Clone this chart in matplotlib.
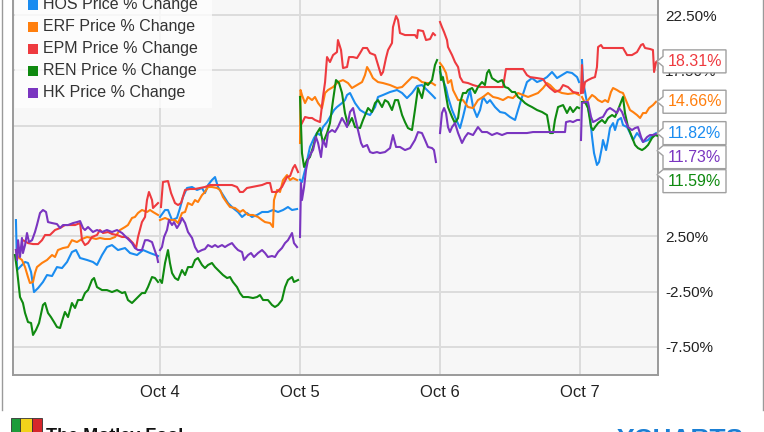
import numpy as np
import matplotlib
matplotlib.use("Agg")
import matplotlib.pyplot as plt
from matplotlib.patches import Rectangle, Polygon

plt.rcParams['font.family'] = ['Liberation Sans', 'DejaVu Sans']

names = ["HOS", "ERF", "EPM", "REN", "HK"]
colors = ["#1a8cf0", "#ff7f0e", "#ee3a3f", "#0f8a10", "#7a35c0"]
day_ticks = [1, 2, 3, 4]
day_labels = ["Oct 4", "Oct 5", "Oct 6", "Oct 7"]
y_ticks = [-7.5, -2.5, 2.5, 7.5, 12.5, 17.5, 22.5]
last_values = [11.82, 14.66, 18.31, 11.59, 11.73]

# (time in trading days since the Oct 3 open, % change)
hos = [
    (-0.029, 3.96), (-0.021, -0.56), (0.014, -0.10), (0.036, 0.17), (0.057, 0.08), (0.079, -0.74),
    (0.1, -2.55), (0.129, -2.19), (0.164, -1.64), (0.193, -1.01), (0.229, -1.10), (0.264, -0.29),
    (0.3, -0.38), (0.336, 0.17), (0.371, 1.07), (0.4, 1.25), (0.429, 0.53), (0.479, 0.35),
    (0.521, 0.17), (0.55, -0.10), (0.586, 0.80), (0.621, 1.52), (0.657, 1.70), (0.7, 1.25),
    (0.75, 1.43), (0.786, 0.98), (0.836, 0.80), (0.879, 1.25), (0.929, 0.98), (0.986, 0.71),
    (1.0, 4.24), (1.036, 4.87), (1.057, 4.87), (1.086, 3.96), (1.121, 4.15), (1.143, 5.05),
    (1.164, 6.04), (1.193, 6.86), (1.229, 6.95), (1.264, 6.68), (1.3, 6.86), (1.321, 6.40),
    (1.343, 7.13), (1.371, 7.58), (1.393, 7.85), (1.414, 6.95), (1.45, 6.22), (1.486, 5.50),
    (1.521, 5.05), (1.557, 4.69), (1.586, 4.24), (1.621, 4.60), (1.657, 4.24), (1.693, 4.42),
    (1.729, 4.69), (1.771, 4.69), (1.807, 4.87), (1.843, 4.69), (1.879, 4.87), (1.914, 5.14),
    (1.943, 4.87), (1.979, 4.96),
    (2.0, 7.6), (2.014, 7.40), (2.036, 8.49), (2.071, 10.57), (2.1, 11.38), (2.121, 11.83),
    (2.143, 11.65), (2.164, 12.37), (2.193, 12.82), (2.214, 13.28), (2.243, 13.91), (2.264, 14.18),
    (2.3, 14.54), (2.321, 14.81), (2.336, 15.27), (2.357, 15.45), (2.371, 15.09), (2.393, 14.54),
    (2.429, 13.91), (2.464, 13.64), (2.5, 13.46), (2.536, 14.18), (2.557, 15.09), (2.593, 15.27),
    (2.643, 15.54), (2.693, 15.72), (2.729, 15.45), (2.764, 14.99), (2.8, 15.45), (2.836, 16.08),
    (2.871, 16.17), (2.907, 15.72), (2.943, 15.27), (2.964, 14.99),
    (3.0, 17.35), (3.021, 16.62), (3.043, 15.90), (3.057, 15.09), (3.086, 13.91), (3.107, 13.28),
    (3.143, 12.28), (3.164, 13.28), (3.193, 14.81), (3.214, 15.72), (3.236, 14.18), (3.264, 13.28),
    (3.286, 13.91), (3.307, 15.09), (3.336, 14.54), (3.357, 14.81), (3.393, 14.18), (3.429, 13.73),
    (3.464, 13.64), (3.5, 13.28), (3.536, 13.01), (3.557, 13.91), (3.586, 15.09), (3.621, 16.44),
    (3.657, 16.80), (3.693, 16.44), (3.729, 16.62), (3.764, 16.89), (3.8, 17.35), (3.836, 16.80),
    (3.871, 17.07), (3.907, 17.35), (3.943, 17.26), (3.979, 16.89), (3.993, 16.44),
    (4.014, 18.43), (4.021, 16.62), (4.05, 14.54), (4.071, 13.28), (4.086, 11.47), (4.1, 10.02),
    (4.121, 8.94), (4.136, 9.21), (4.157, 10.57), (4.164, 11.20), (4.186, 10.29), (4.2, 11.20),
    (4.214, 12.28), (4.236, 12.73), (4.25, 12.10), (4.271, 13.01), (4.293, 13.19), (4.307, 12.55),
    (4.336, 12.37), (4.357, 11.83), (4.379, 11.20), (4.407, 11.83), (4.429, 11.47), (4.45, 11.02),
    (4.486, 11.20), (4.521, 11.65), (4.543, 11.82),
]

erf = [
    (-0.029, 1.25), (-0.014, 0.62), (0.014, 0.35), (0.036, -0.29), (0.057, -1.19), (0.071, -1.73),
    (0.093, -1.64), (0.107, -0.83), (0.121, -0.29), (0.157, 0.08), (0.193, 0.35), (0.229, 0.80),
    (0.25, 0.62), (0.271, 1.25), (0.307, 1.43), (0.343, 1.52), (0.371, 2.14), (0.407, 1.97),
    (0.443, 2.25), (0.479, 2.43), (0.514, 2.34), (0.543, 2.25), (0.571, 2.34), (0.607, 2.25),
    (0.643, 2.25), (0.679, 2.43), (0.714, 3.06), (0.75, 3.33), (0.771, 3.51), (0.8, 4.15),
    (0.821, 4.24), (0.843, 4.60), (0.871, 4.87), (0.907, 4.69), (0.929, 4.87), (0.95, 4.69),
    (0.986, 4.42),
    (1.0, 3.96), (1.036, 4.15), (1.071, 3.96), (1.107, 3.96), (1.129, 3.69), (1.157, 4.60),
    (1.179, 4.69), (1.2, 5.50), (1.229, 5.32), (1.25, 5.77), (1.271, 5.59), (1.3, 6.22),
    (1.321, 6.50), (1.343, 6.95), (1.371, 6.95), (1.407, 6.86), (1.429, 6.68), (1.45, 6.04),
    (1.479, 5.50), (1.5, 5.14), (1.536, 5.05), (1.571, 4.69), (1.593, 4.87), (1.629, 4.42),
    (1.664, 4.42), (1.7, 4.24), (1.729, 3.96), (1.75, 3.78), (1.786, 3.69), (1.807, 3.33),
    (1.814, 5.77), (1.836, 6.68), (1.857, 6.50), (1.879, 7.58), (1.907, 8.03), (1.929, 7.58),
    (1.95, 7.76), (1.979, 7.58),
    (2.0, 10.93), (2.004, 15.72), (2.014, 15.27), (2.036, 14.54), (2.057, 15.09), (2.086, 14.81),
    (2.107, 15.09), (2.129, 14.54), (2.157, 14.09), (2.179, 15.45), (2.2, 15.72), (2.236, 15.99),
    (2.271, 16.44), (2.307, 16.62), (2.343, 16.35), (2.371, 15.90), (2.407, 16.17), (2.443, 16.44),
    (2.464, 17.07), (2.479, 17.80), (2.5, 17.35), (2.521, 16.80), (2.557, 16.44), (2.593, 16.35),
    (2.643, 16.17), (2.693, 15.90), (2.729, 15.99), (2.764, 16.44), (2.8, 16.89), (2.836, 16.80),
    (2.871, 16.44), (2.907, 16.35), (2.943, 16.35), (2.964, 16.17),
    (3.0, 18.16), (3.021, 17.80), (3.043, 17.26), (3.057, 16.35), (3.079, 16.62), (3.093, 15.72),
    (3.129, 14.81), (3.164, 14.81), (3.2, 14.18), (3.236, 14.09), (3.271, 14.81), (3.307, 15.09),
    (3.343, 15.45), (3.379, 15.09), (3.414, 14.99), (3.45, 14.81), (3.486, 15.09), (3.521, 14.99),
    (3.557, 15.45), (3.593, 15.27), (3.629, 15.09), (3.664, 15.27), (3.7, 15.45), (3.736, 15.90),
    (3.764, 16.35), (3.786, 16.17), (3.821, 15.72), (3.871, 15.45), (3.914, 15.36), (3.964, 15.45),
    (3.993, 15.27),
    (4.014, 15.09), (4.036, 14.54), (4.057, 14.81), (4.086, 15.27), (4.107, 15.09), (4.129, 14.81),
    (4.157, 14.63), (4.179, 14.81), (4.2, 14.63), (4.221, 15.54), (4.236, 15.90), (4.264, 15.72),
    (4.286, 15.54), (4.307, 15.45), (4.336, 14.54), (4.357, 13.91), (4.379, 13.73), (4.407, 13.46),
    (4.429, 13.19), (4.45, 13.64), (4.471, 13.64), (4.493, 14.09), (4.521, 14.36), (4.543, 14.66),
]

epm = [
    (0.021, 2.14), (0.057, 1.88), (0.093, 1.79), (0.129, 1.79), (0.157, 2.14), (0.179, 2.61),
    (0.214, 2.61), (0.25, 3.06), (0.286, 3.24), (0.321, 3.51), (0.357, 3.51), (0.393, 3.51),
    (0.429, 3.69), (0.443, 2.14), (0.464, 1.70), (0.486, 1.88), (0.514, 2.43), (0.55, 2.61),
    (0.571, 3.06), (0.593, 2.79), (0.629, 2.88), (0.657, 2.70), (0.693, 2.61), (0.729, 2.43),
    (0.75, 2.43), (0.771, 2.34), (0.807, 1.88), (0.829, 1.43), (0.843, 2.43), (0.871, 3.78),
    (0.893, 4.24), (0.907, 5.77), (0.921, 6.50), (0.943, 5.77), (0.95, 5.05), (0.971, 5.32),
    (0.986, 5.50),
    (1.007, 5.14), (1.021, 7.40), (1.057, 7.49), (1.079, 6.40), (1.107, 5.50), (1.129, 5.32),
    (1.15, 5.50), (1.179, 6.68), (1.214, 6.77), (1.25, 6.77), (1.286, 6.86), (1.321, 6.95),
    (1.357, 7.13), (1.407, 7.13), (1.443, 7.13), (1.514, 7.13), (1.55, 6.95), (1.571, 6.50),
    (1.593, 6.50), (1.621, 6.86), (1.657, 6.95), (1.693, 7.04), (1.729, 7.13), (1.764, 7.31),
    (1.786, 7.31), (1.8, 6.50), (1.836, 6.50), (1.871, 6.95), (1.907, 7.85), (1.929, 7.94),
    (1.95, 8.67), (1.964, 8.94), (1.986, 8.30),
    (2.007, 12.55), (2.036, 13.28), (2.064, 13.19), (2.086, 13.19), (2.107, 13.01), (2.143, 12.82),
    (2.164, 15.09), (2.179, 16.44), (2.193, 18.70), (2.214, 18.25), (2.236, 18.88), (2.264, 19.15),
    (2.271, 20.24), (2.293, 19.34), (2.307, 17.71), (2.336, 17.80), (2.35, 18.70), (2.379, 18.70),
    (2.407, 18.61), (2.429, 19.06), (2.45, 19.52), (2.479, 19.52), (2.5, 19.06), (2.536, 18.88),
    (2.557, 17.98), (2.579, 17.07), (2.593, 17.35), (2.614, 18.61), (2.629, 19.34), (2.657, 19.97),
    (2.664, 21.41), (2.686, 22.41), (2.7, 22.05), (2.714, 20.87), (2.75, 20.69), (2.786, 20.69),
    (2.821, 20.69), (2.836, 20.42), (2.843, 21.14), (2.879, 21.05), (2.9, 20.24), (2.929, 20.33),
    (2.95, 20.87), (2.964, 20.69),
    (3.0, 21.87), (3.014, 21.41), (3.029, 20.96), (3.05, 20.24), (3.057, 19.61), (3.086, 18.88),
    (3.107, 18.25), (3.129, 17.80), (3.143, 16.89), (3.164, 16.44), (3.2, 16.35), (3.236, 16.17),
    (3.286, 15.99), (3.343, 15.99), (3.407, 15.99), (3.45, 15.99), (3.471, 17.62), (3.521, 17.62),
    (3.593, 17.62), (3.621, 17.07), (3.643, 16.89), (3.693, 16.80), (3.736, 16.71), (3.764, 16.17),
    (3.786, 15.90), (3.821, 15.54), (3.857, 15.72), (3.879, 16.17), (3.914, 15.99), (3.95, 15.54),
    (3.986, 15.45),
    (4.007, 15.45), (4.014, 17.98), (4.021, 15.45), (4.036, 16.44), (4.057, 16.62), (4.086, 16.80),
    (4.107, 16.89), (4.121, 17.80), (4.129, 19.61), (4.15, 19.79), (4.164, 19.52), (4.214, 19.52),
    (4.264, 19.52), (4.307, 19.52), (4.336, 18.88), (4.371, 18.88), (4.407, 19.15), (4.436, 19.79),
    (4.45, 19.88), (4.464, 19.52), (4.5, 19.43), (4.521, 19.34), (4.529, 17.35), (4.543, 18.25),
    (4.55, 18.31),
]

ren = [
    (-0.036, 0.80), (-0.021, -0.56), (0.0, -3.00), (0.021, -3.54), (0.036, -4.44), (0.057, -5.26),
    (0.079, -5.35), (0.093, -6.43), (0.114, -5.98), (0.136, -5.35), (0.164, -3.72), (0.179, -3.54),
    (0.2, -4.44), (0.221, -4.81), (0.243, -5.26), (0.264, -5.71), (0.286, -5.80), (0.307, -4.90),
    (0.321, -4.35), (0.343, -4.81), (0.371, -3.54), (0.393, -3.99), (0.414, -3.27), (0.443, -3.27),
    (0.464, -2.64), (0.486, -2.37), (0.514, -1.46), (0.529, -1.28), (0.55, -2.10), (0.586, -2.37),
    (0.621, -2.37), (0.657, -2.55), (0.693, -2.37), (0.729, -2.64), (0.75, -2.55), (0.771, -3.27),
    (0.8, -3.54), (0.821, -3.27), (0.843, -3.00), (0.871, -2.64), (0.893, -2.64), (0.914, -2.10),
    (0.943, -1.19), (0.964, -1.28), (0.986, -1.64),
    (1.0, -1.46), (1.014, -1.73), (1.036, 0.08), (1.057, 1.25), (1.071, 0.08), (1.086, -0.83),
    (1.107, -1.28), (1.129, -1.46), (1.157, -0.56), (1.179, -1.01), (1.2, -0.29), (1.229, -0.29),
    (1.25, 0.35), (1.271, 0.53), (1.3, -0.10), (1.321, -0.38), (1.343, -0.10), (1.371, 0.08),
    (1.393, -0.29), (1.414, -0.56), (1.45, -1.01), (1.479, -1.28), (1.5, -1.19), (1.521, -1.64),
    (1.55, -2.10), (1.571, -2.64), (1.593, -3.00), (1.629, -3.00), (1.664, -3.09), (1.693, -3.00),
    (1.714, -2.82), (1.736, -3.27), (1.771, -3.27), (1.8, -3.72), (1.821, -3.90), (1.843, -3.72),
    (1.871, -3.27), (1.893, -2.10), (1.914, -1.46), (1.943, -1.19), (1.957, -1.64), (1.986, -1.46),
    (2.0, 15.09), (2.014, 10.02), (2.029, 8.76), (2.05, 9.39), (2.071, 9.66), (2.093, 10.57),
    (2.121, 11.83), (2.143, 12.28), (2.164, 10.93), (2.193, 11.83), (2.214, 12.73), (2.236, 14.81),
    (2.257, 16.62), (2.279, 16.35), (2.3, 15.45), (2.321, 13.64), (2.343, 12.55), (2.371, 13.19),
    (2.393, 12.37), (2.429, 12.28), (2.45, 13.01), (2.486, 14.09), (2.514, 13.73), (2.536, 14.54),
    (2.557, 14.81), (2.586, 14.18), (2.607, 14.81), (2.629, 14.63), (2.657, 13.91), (2.679, 14.81),
    (2.7, 14.81), (2.729, 13.46), (2.75, 12.82), (2.771, 12.28), (2.8, 12.10), (2.821, 13.91),
    (2.843, 15.90), (2.871, 14.99), (2.893, 16.35), (2.914, 16.17), (2.943, 16.62), (2.964, 17.98),
    (2.979, 18.43),
    (3.0, 17.80), (3.007, 16.62), (3.021, 16.89), (3.036, 15.72), (3.057, 14.18), (3.086, 13.28),
    (3.107, 12.73), (3.129, 13.19), (3.143, 14.54), (3.164, 15.45), (3.186, 15.45), (3.2, 15.72),
    (3.229, 15.90), (3.25, 15.45), (3.271, 15.99), (3.3, 16.44), (3.321, 16.17), (3.336, 17.26),
    (3.35, 17.53), (3.371, 16.80), (3.393, 16.62), (3.414, 16.44), (3.443, 16.62), (3.464, 15.99),
    (3.486, 15.90), (3.514, 15.54), (3.536, 15.54), (3.557, 15.09), (3.586, 14.81), (3.607, 14.54),
    (3.629, 14.36), (3.657, 14.18), (3.693, 13.91), (3.729, 13.73), (3.764, 13.46), (3.786, 11.83),
    (3.807, 11.83), (3.821, 13.01), (3.843, 14.18), (3.879, 14.36), (3.907, 13.64), (3.929, 14.18),
    (3.95, 13.73), (3.979, 14.18), (3.993, 14.09),
    (4.014, 14.63), (4.036, 14.63), (4.057, 14.09), (4.079, 12.37), (4.093, 12.10), (4.107, 12.37),
    (4.129, 12.73), (4.157, 13.01), (4.179, 12.73), (4.2, 13.19), (4.229, 13.46), (4.25, 13.28),
    (4.271, 13.91), (4.293, 14.63), (4.307, 15.09), (4.321, 13.64), (4.343, 12.37), (4.371, 11.47),
    (4.393, 10.75), (4.414, 10.47), (4.443, 10.29), (4.464, 10.47), (4.486, 10.75), (4.514, 11.38),
    (4.536, 11.65), (4.55, 11.59),
]

hk = [
    (-0.029, 1.25), (-0.021, 0.35), (-0.014, 2.14), (0.0, 0.62), (0.014, 2.34), (0.021, 0.98),
    (0.036, 1.70), (0.05, 2.79), (0.064, 1.97), (0.086, 2.14), (0.107, 2.88), (0.121, 3.51),
    (0.143, 4.60), (0.164, 4.87), (0.186, 4.69), (0.2, 3.78), (0.229, 3.69), (0.264, 3.60),
    (0.286, 3.24), (0.307, 3.51), (0.343, 3.51), (0.379, 3.69), (0.407, 3.78), (0.429, 3.87),
    (0.45, 3.24), (0.464, 3.06), (0.486, 3.33), (0.521, 2.88), (0.55, 3.06), (0.586, 2.88),
    (0.621, 3.06), (0.657, 2.88), (0.693, 3.06), (0.729, 2.79), (0.764, 2.34), (0.8, 1.88),
    (0.821, 1.43), (0.843, 1.25), (0.871, 1.25), (0.893, 2.14), (0.914, 2.14), (0.943, 1.97),
    (0.957, 1.43), (0.979, 0.62), (0.986, 0.17),
    (1.0, 1.25), (1.014, 1.52), (1.029, 2.43), (1.05, 3.06), (1.064, 3.96), (1.086, 3.51),
    (1.1, 3.78), (1.121, 3.24), (1.143, 3.69), (1.157, 4.15), (1.179, 3.69), (1.2, 2.88),
    (1.229, 2.34), (1.25, 1.52), (1.271, 1.07), (1.3, 1.25), (1.321, 1.34), (1.343, 1.70),
    (1.371, 1.52), (1.393, 1.70), (1.414, 1.52), (1.443, 1.70), (1.464, 1.52), (1.486, 1.70),
    (1.514, 1.88), (1.536, 1.52), (1.557, 1.25), (1.586, 1.07), (1.6, 0.35), (1.629, 0.80),
    (1.65, 0.98), (1.671, 0.62), (1.7, 0.98), (1.729, 1.25), (1.75, 0.98), (1.771, 0.62),
    (1.8, 0.71), (1.821, 0.62), (1.843, 1.07), (1.871, 1.43), (1.893, 1.88), (1.914, 2.14),
    (1.943, 2.79), (1.957, 1.88), (1.979, 1.52),
    (2.0, 2.43), (2.007, 7.31), (2.014, 5.77), (2.029, 6.95), (2.043, 8.49), (2.057, 9.39),
    (2.079, 10.02), (2.093, 10.29), (2.114, 11.47), (2.129, 10.93), (2.15, 9.66), (2.164, 11.20),
    (2.186, 10.57), (2.2, 11.83), (2.229, 12.10), (2.25, 11.92), (2.271, 12.37), (2.3, 13.19),
    (2.321, 12.73), (2.336, 12.37), (2.357, 13.73), (2.379, 14.09), (2.393, 13.28), (2.414, 12.10),
    (2.436, 10.93), (2.45, 10.57), (2.479, 10.75), (2.5, 10.11), (2.521, 10.02), (2.55, 10.11),
    (2.571, 10.02), (2.607, 10.11), (2.643, 10.47), (2.664, 11.65), (2.686, 10.57), (2.714, 10.57),
    (2.75, 10.29), (2.786, 10.47), (2.821, 11.20), (2.843, 11.92), (2.871, 11.83), (2.893, 11.20),
    (2.914, 10.57), (2.943, 10.47), (2.957, 10.29), (2.971, 9.21),
    (3.0, 11.83), (3.014, 13.64), (3.029, 14.09), (3.043, 13.64), (3.057, 12.37), (3.071, 11.92),
    (3.086, 12.37), (3.107, 12.73), (3.129, 11.83), (3.157, 10.93), (3.179, 11.47), (3.2, 11.83),
    (3.236, 11.65), (3.271, 12.37), (3.3, 11.92), (3.336, 11.92), (3.371, 11.65), (3.407, 11.83),
    (3.443, 11.65), (3.479, 11.83), (3.521, 11.83), (3.571, 11.83), (3.621, 11.83), (3.664, 11.92),
    (3.714, 11.92), (3.786, 11.92), (3.843, 11.92), (3.893, 11.92), (3.9, 12.82), (3.929, 12.91),
    (3.95, 12.82), (3.979, 13.01), (3.993, 13.01),
    (4.007, 11.20), (4.014, 14.54), (4.036, 14.63), (4.057, 14.63), (4.079, 13.28), (4.093, 12.82),
    (4.121, 13.01), (4.143, 13.19), (4.164, 13.28), (4.193, 13.91), (4.214, 14.09), (4.236, 13.91),
    (4.264, 13.64), (4.279, 14.09), (4.3, 13.73), (4.321, 13.01), (4.343, 12.37), (4.371, 12.10),
    (4.393, 12.28), (4.414, 12.37), (4.436, 11.47), (4.45, 11.02), (4.479, 11.47), (4.5, 11.65),
    (4.521, 11.65), (4.543, 11.73),
]

series = [hos, erf, epm, ren, hk]


def with_day_gaps(pts):
    # break the line between sessions
    t, v = np.array(pts).T
    day = np.digitize(t, [0.995, 1.995, 2.995, 3.995])
    xs, ys = [], []
    for i in range(len(t)):
        if i > 0 and day[i] != day[i - 1]:
            xs.append(np.nan)
            ys.append(np.nan)
        xs.append(t[i])
        ys.append(v[i])
    return xs, ys


W, H = 764, 432
fig = plt.figure(figsize=(W / 100, H / 100), dpi=100)
fig.patch.set_facecolor("white")
ax = fig.add_axes([13 / W, 1 - 375 / H, 645 / W, 375 / H])
ax.set_facecolor("#f7f7f7")

for pts, c in zip(series, colors):
    xs, ys = with_day_gaps(pts)
    ax.plot(xs, ys, color=c, lw=1.5, solid_joinstyle="round", zorder=3)

ax.set_xlim(-0.05, 4.557)
ax.set_ylim(-10.05, 23.86)
ax.set_xticks(day_ticks)
ax.set_xticklabels(day_labels, family=["Liberation Sans Narrow", "Liberation Sans", "DejaVu Sans"], fontsize=12)
ax.set_yticks(y_ticks)
ax.set_yticklabels(["%.2f%%" % v for v in y_ticks], fontsize=11)
ax.yaxis.tick_right()
ax.tick_params(axis="both", length=0, colors="#222222")
ax.tick_params(axis="y", pad=5)
ax.tick_params(axis="x", pad=7)
ax.grid(True, color="#dcdcdc", lw=1.4)
ax.set_axisbelow(True)
for s in ["left", "right", "bottom"]:
    ax.spines[s].set_color("#9a9a9a")
    ax.spines[s].set_linewidth(1.4)
ax.spines["top"].set_visible(False)


# pixel coords from the top-left corner -> figure fraction
def px(x, y):
    return x / W, 1 - y / H


# legend box, drawn by hand
ax.add_patch(Rectangle((0.003, 1 - 108 / 375), 197 / 645, 0.5, transform=ax.transAxes,
                       facecolor="white", alpha=0.75, edgecolor="none", zorder=4))
for i, (n, c) in enumerate(zip(names, colors)):
    yc = 5 + 22 * i
    fig.add_artist(Rectangle(px(28, yc + 5), 10 / W, 10 / H, facecolor=c, edgecolor="none", zorder=5))
    fig.text(*px(43, yc), "%s Price %% Change" % n, fontsize=11.5, color="#333333", va="center", zorder=5)

# value callouts on the right
order = np.argsort(last_values)[::-1]
prev = -100
for k in order:
    v = last_values[k]
    ty = H - ax.transData.transform((4.5, v))[1]
    by = max(ty, prev + 24)
    prev = by
    x0, x1, hh = 663, 726, 11.5
    py = min(max(ty, by - hh + 5), by + hh - 5)
    poly = [(x0, by - hh), (x1, by - hh), (x1, by + hh), (x0, by + hh),
            (x0, py + 5), (657, py), (x0, py - 5)]
    fig.add_artist(Polygon([px(a, b) for a, b in poly], closed=True, facecolor="white",
                           edgecolor="#a0a0a0", lw=1.0, zorder=4))
    fig.text(*px(668, by), "%.2f%%" % v, color=colors[k], fontsize=11.5, va="center", zorder=6)

# outer frame and footer (cut off at the bottom edge, as in the source)
fig.add_artist(plt.Line2D([1.5 / W, 1.5 / W], [1 - 410 / H, 1], color="#9a9a9a", lw=1))
fig.add_artist(plt.Line2D([762.5 / W, 762.5 / W], [1 - 410 / H, 1], color="#9a9a9a", lw=1))
fig.add_artist(Rectangle(px(11, 434), 9 / W, 16 / H, facecolor="#1c9c3a", edgecolor="#333333", lw=0.6))
fig.add_artist(Rectangle(px(20, 434), 12 / W, 16 / H, facecolor="#f2d21b", edgecolor="#333333", lw=0.6))
fig.add_artist(Rectangle(px(32, 434), 10 / W, 16 / H, facecolor="#d6262b", edgecolor="#333333", lw=0.6))
fig.text(*px(46, 428), "The Motley Fool", fontsize=13, weight="bold", color="#111111", va="top")
fig.text(*px(617, 428), "YCHARTS", fontsize=19, weight="bold", color="#1a7fd4", va="top")

fig.savefig("out.png", dpi=100)
